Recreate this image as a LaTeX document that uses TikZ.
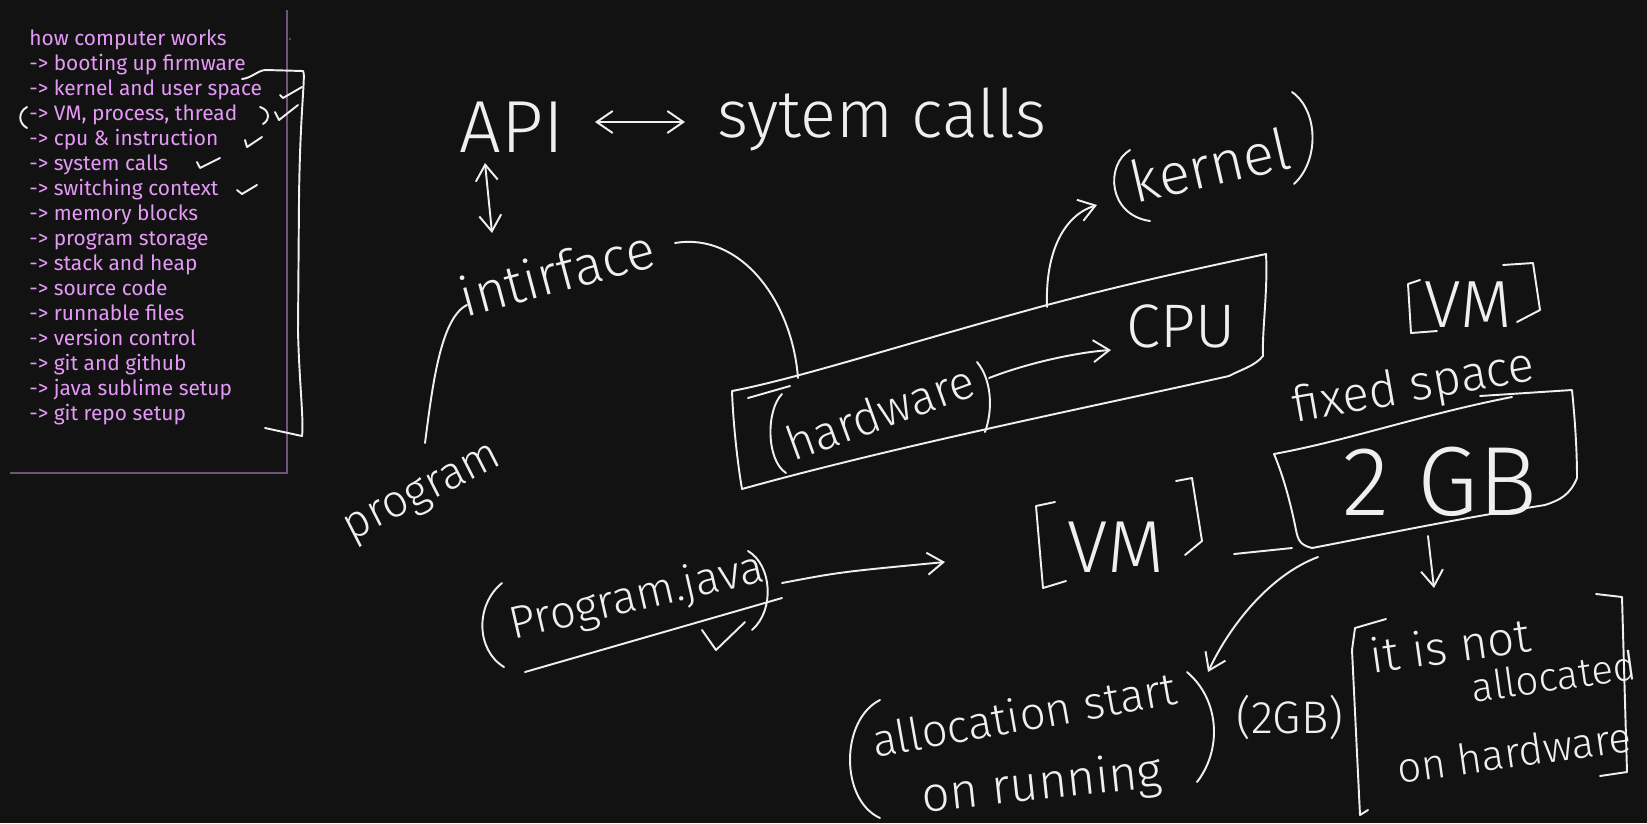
\documentclass[tikz,border=0pt]{standalone}
\usepackage{fontspec}
\usetikzlibrary{arrows.meta}
\setmainfont{Fira Sans}
\IfFontExistsTF{Fira Sans Light}{\newfontfamily\handfont{Fira Sans Light}}{\newfontfamily\handfont{Fira Sans}}
\definecolor{NoteBg}{HTML}{121212}
\definecolor{NoteViolet}{HTML}{E599F7}
\definecolor{NoteRule}{HTML}{6E5478}
\definecolor{NoteInk}{HTML}{EFEFEF}
\tikzset{
  ink/.style={NoteInk,line width=1.1pt,line cap=round,line join=round},
  inkto/.style={ink,-{Straight Barb[length=3.2mm,width=4.4mm]}},
  inkboth/.style={ink,{Straight Barb[length=3.2mm,width=4.4mm]}-{Straight Barb[length=3.2mm,width=4.4mm]}},
  hand/.style={NoteInk,font=\handfont\fontsize{#1}{#1}\selectfont,inner sep=0pt},
  todo/.style={NoteViolet,font=\fontsize{11.9}{12}\selectfont,anchor=base west,inner sep=0pt},
}
\begin{document}
\begin{tikzpicture}[x=0.02cm,y=-0.02cm]
\fill[NoteBg] (0,0) rectangle (1647,823);
\path[use as bounding box] (0,0) rectangle (1647,823);

% topic list
\foreach \txt [count=\n from 0] in {how computer works,-> booting up firmware,-> kernel and user space,{-> VM, process, thread},-> cpu \& instruction,-> system calls,-> switching context,-> memory blocks,-> program storage,-> stack and heap,-> source code,-> runnable files,-> version control,-> git and github,-> java sublime setup,-> git repo setup}
  \node[todo] (item\n) at (29,{45+25*\n}) {\txt};
\draw[NoteRule,line width=1pt] (287,10) -- (287,473) -- (10,473);
\fill[NoteRule] (290,39) circle (1.2);
\draw[ink] (27,107) .. controls (18,112) and (18,123) .. (27,128);
\draw[ink] (260,107) .. controls (270,110) and (270,120) .. (263,124);
\draw[ink] (280,95) -- (283,98) -- (302,87);
\draw[ink] (275,112) -- (279,120) -- (298,105);
\draw[ink] (245,140) -- (247,147) -- (262,137);
\draw[ink] (197,162) -- (200,168) -- (220,158);
\draw[ink] (237,190) -- (242,194) -- (257,185);
\draw[ink] (242,79) .. controls (252,78) and (258,70) .. (266,70) -- (303,71)
  .. controls (306,73) and (300,110) .. (299,200) -- (298,330)
  .. controls (299,380) and (304,420) .. (302,436) -- (265,428);

% API and interface
\node[hand=42,anchor=base] (api) at (512,152) {API};
\node[hand=38,anchor=base] (syscalls) at (882,137) {sytem calls};
\coordinate (apiout) at (595,122);
\coordinate (sysin) at (685,122);
\draw[inkboth] (apiout) -- (sysin);
\node[hand=31,rotate=15] (intf) at (557,272) {intirface};
\coordinate (apidown) at (485,163);
\coordinate (intfup) at (492,233);
\draw[inkboth] (apidown) -- (intfup);
\node[hand=26,rotate=27] (prog) at (424,495) {program};
\coordinate (progtop) at (425,443);
\coordinate (intfleft) at (467,305);
\draw[ink] (progtop) .. controls (432,390) and (440,318) .. (intfleft);
\coordinate (intfright) at (675,243);
\coordinate (hwtop) at (798,378);
\draw[ink] (intfright) .. controls (740,232) and (792,300) .. (hwtop);

% hardware box
\draw[ink] (732,391) .. controls (800,378) and (900,345) .. (1047,305)
  .. controls (1130,283) and (1200,268) .. (1266,254)
  .. controls (1268,290) and (1262,330) .. (1263,356)
  .. controls (1255,366) and (1240,370) .. (1229,376)
  .. controls (1100,405) and (900,445) .. (742,489)
  .. controls (737,460) and (733,420) .. cycle;
\draw[ink] (748,398) -- (790,386);
\node[hand=27,rotate=20] (hw) at (880,412) {hardware};
\draw[ink] (782,394) .. controls (766,410) and (766,460) .. (786,473);
\draw[ink] (977,362) .. controls (992,380) and (993,410) .. (985,432);
\node[hand=35,anchor=base] (cpu) at (1181,347) {CPU};
\coordinate (hwout) at (989,378);
\coordinate (cpuin) at (1111,350);
\draw[inkto] (hwout) .. controls (1030,362) and (1080,352) .. (cpuin);
\coordinate (boxtop) at (1047,307);
\coordinate (kernin) at (1097,205);
\draw[inkto] (boxtop) .. controls (1045,250) and (1065,215) .. (kernin);
\node[hand=33,rotate=13] (kernel) at (1210,165) {kernel};
\draw[ink] (1130,150) .. controls (1105,165) and (1108,215) .. (1150,221);
\draw[ink] (1292,92) .. controls (1318,110) and (1320,160) .. (1294,184);

% VM and fixed space
\node[hand=38,anchor=base] (vmtop) at (1468,327) {VM};
\draw[ink] (1420,280) -- (1408,284) -- (1411,333) -- (1437,331);
\draw[ink] (1503,265) -- (1533,263) -- (1540,310) -- (1517,322);
\node[hand=28,rotate=10] (fixed) at (1414,388) {fixed space};
\draw[ink] (1274,454) .. controls (1350,440) and (1420,415) .. (1512,397);
\draw[ink] (1480,396) -- (1572,390) .. controls (1575,420) and (1577,450) .. (1577,478)
  .. controls (1570,495) and (1560,500) .. (1545,505)
  .. controls (1450,520) and (1380,535) .. (1312,548)
  .. controls (1300,545) and (1298,540) .. (1296,530);
\draw[ink] (1274,454) .. controls (1285,480) and (1292,510) .. (1296,530);
\node[hand=56,anchor=base] (gb) at (1440,515) {2 GB};
\node[hand=42,anchor=base] (vmmid) at (1116,572) {VM};
\draw[ink] (1055,502) -- (1036,506) -- (1043,588) -- (1066,581);
\draw[ink] (1176,481) -- (1192,478) -- (1202,541) -- (1185,555);
\draw[ink] (1234,554) -- (1292,548);

% Program.java
\node[hand=26,rotate=13] (pjava) at (637,598) {Program.java};
\draw[ink] (502,583) .. controls (475,605) and (476,650) .. (504,667);
\draw[ink] (748,551) .. controls (772,565) and (775,610) .. (752,630);
\draw[ink] (525,672) -- (782,598);
\draw[ink] (702,630) -- (716,650) -- (745,622);
\coordinate (pjout) at (782,583);
\coordinate (vmin) at (945,562);
\draw[inkto] (pjout) .. controls (840,572) .. (vmin);

% allocation
\coordinate (gbdown) at (1428,536);
\coordinate (notin) at (1434,588);
\draw[inkto] (gbdown) -- (notin);
\coordinate (gbleft) at (1318,557);
\coordinate (allocin) at (1208,672);
\draw[inkto] (gbleft) .. controls (1270,575) and (1230,625) .. (allocin);
\node[hand=26,rotate=10] (alloc) at (1024,714) {allocation start};
\node[hand=28,rotate=6] (running) at (1042,786) {on running};
\draw[ink] (880,700) .. controls (840,720) and (840,800) .. (880,818);
\draw[ink] (1187,672) .. controls (1220,700) and (1222,750) .. (1197,782);
\node[hand=26] (twogb) at (1290,717) {(2GB)};
\node[hand=27,rotate=8] (notone) at (1450,645) {it is not};
\node[hand=23,rotate=8] (nottwo) at (1554,676) {allocated};
\node[hand=24,rotate=8] (notthree) at (1514,752) {on hardware};
\draw[ink] (1386,619) -- (1355,628) -- (1352,650) -- (1360,815) -- (1368,810);
\draw[ink] (1596,594) -- (1622,597) -- (1627,772) -- (1600,776);
\end{tikzpicture}
\end{document}
